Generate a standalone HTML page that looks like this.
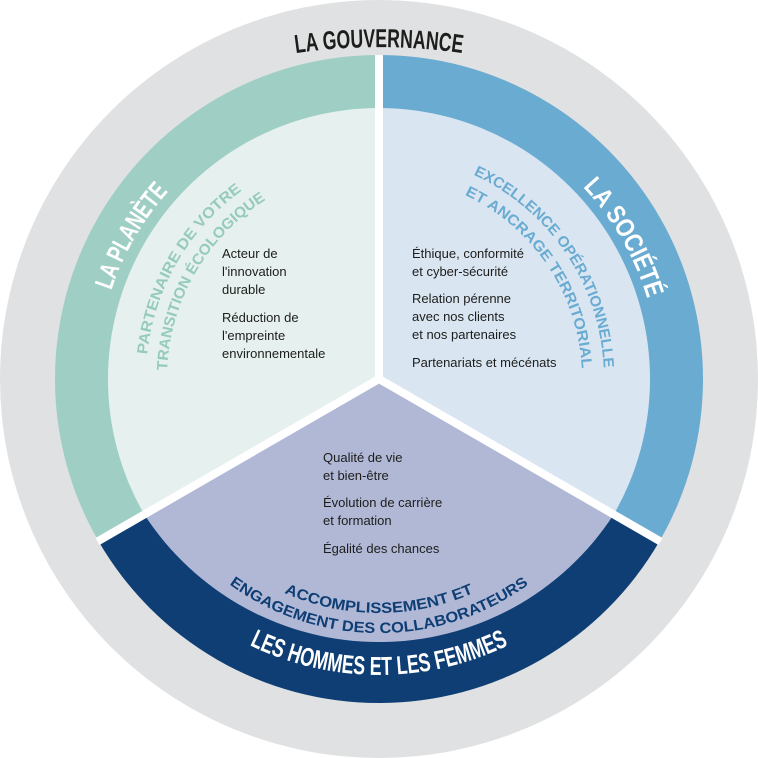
<!DOCTYPE html>
<html><head><meta charset="utf-8"><style>
html,body{margin:0;padding:0;background:#fff;}
svg{display:block}
.h{font-family:"Liberation Sans",sans-serif;font-weight:bold;font-size:26px;}
.s{font-family:"Liberation Sans",sans-serif;font-weight:bold;font-size:15px;}
.t{font-family:"Liberation Sans",sans-serif;font-size:13px;fill:#1d1d1b;}
</style></head><body>
<svg width="758" height="758" viewBox="0 0 758 758" xmlns="http://www.w3.org/2000/svg">
<defs>
<path id="pg" d="M290,54 A584,584 0 0 1 468,54"/>
<path id="pl" d="M106.6,452 A282,282 0 0 1 306,106.6"/>
<path id="pl1" d="M153.9,439.3 A233,233 0 0 1 318.7,153.9"/>
<path id="pl2" d="M174.2,433.9 A212,212 0 0 1 324.1,174.2"/>
<path id="ps" d="M451.5,108.5 A280,280 0 0 1 649.5,451.5"/>
<path id="ps1" d="M421.9,158.1 A225,225 0 0 1 599.9,421.9"/>
<path id="ps2" d="M417.7,179.7 A203,203 0 0 1 578.3,417.7"/>
<path id="ph" d="M122.7,527 A296,296 0 0 0 635.3,527"/>
<path id="ph1" d="M176.4,496 A234,234 0 0 0 581.6,496"/>
<path id="ph2" d="M159,506 A254,254 0 0 0 599,506"/>
</defs>
<circle cx="379" cy="379" r="379" fill="#e0e1e2"/>
<path d="M379,379 L98.4,541 A324,324 0 0 1 379,55 Z" fill="#9fcfc4"/>
<path d="M379,379 L144.3,514.5 A271,271 0 0 1 379,108 Z" fill="#e6f1ef"/>
<path d="M379,379 L379,55 A324,324 0 0 1 659.6,541 Z" fill="#6aabd2"/>
<path d="M379,379 L379,108 A271,271 0 0 1 613.7,514.5 Z" fill="#d9e6f2"/>
<path d="M379,379 L659.6,541 A324,324 0 0 1 98.4,541 Z" fill="#0e3e74"/>
<path d="M379,379 L613.7,514.5 A279.7,279.7 0 0 1 144.3,514.5 Z" fill="#b0b8d6"/>
<g stroke="#fff" stroke-width="8">
<line x1="379" y1="379" x2="379" y2="55"/>
<line x1="379" y1="379" x2="97.5" y2="541.5"/>
<line x1="379" y1="379" x2="660.5" y2="541.5"/>
</g>
<text class="h" fill="#1d1d1b" font-size="27"><textPath href="#pg" startOffset="50%" text-anchor="middle" textLength="167" lengthAdjust="spacingAndGlyphs">LA GOUVERNANCE</textPath></text>
<text class="h" fill="#fff"><textPath href="#pl" startOffset="50%" text-anchor="middle" textLength="115" lengthAdjust="spacingAndGlyphs">LA PLANÈTE</textPath></text>
<text class="s" fill="#95cabd"><textPath href="#pl1" startOffset="50%" text-anchor="middle" textLength="195" lengthAdjust="spacingAndGlyphs">PARTENAIRE DE VOTRE</textPath></text>
<text class="s" fill="#95cabd"><textPath href="#pl2" startOffset="50%" text-anchor="middle" textLength="205" lengthAdjust="spacingAndGlyphs">TRANSITION ÉCOLOGIQUE</textPath></text>
<text class="h" fill="#fff"><textPath href="#ps" startOffset="50%" text-anchor="middle" textLength="130" lengthAdjust="spacingAndGlyphs">LA SOCIÉTÉ</textPath></text>
<text class="s" fill="#6aabd2"><textPath href="#ps1" startOffset="50%" text-anchor="middle" textLength="245" lengthAdjust="spacingAndGlyphs">EXCELLENCE OPÉRATIONNELLE</textPath></text>
<text class="s" fill="#6aabd2"><textPath href="#ps2" startOffset="50%" text-anchor="middle" textLength="220" lengthAdjust="spacingAndGlyphs">ET ANCRAGE TERRITORIAL</textPath></text>
<text class="h" fill="#fff"><textPath href="#ph" startOffset="50%" text-anchor="middle" textLength="268" lengthAdjust="spacingAndGlyphs">LES HOMMES ET LES FEMMES</textPath></text>
<text class="s" fill="#0e3e74"><textPath href="#ph1" startOffset="50%" text-anchor="middle" textLength="195" lengthAdjust="spacingAndGlyphs">ACCOMPLISSEMENT ET</textPath></text>
<text class="s" fill="#0e3e74"><textPath href="#ph2" startOffset="50%" text-anchor="middle" textLength="320" lengthAdjust="spacingAndGlyphs">ENGAGEMENT DES COLLABORATEURS</textPath></text>
<g class="t">
<text x="222" y="258">Acteur de</text>
<text x="222" y="276">l'innovation</text>
<text x="222" y="294">durable</text>
<text x="222" y="322">Réduction de</text>
<text x="222" y="340">l'empreinte</text>
<text x="222" y="358">environnementale</text>
<text x="412" y="258">Éthique, conformité</text>
<text x="412" y="276">et cyber-sécurité</text>
<text x="412" y="303">Relation pérenne</text>
<text x="412" y="321">avec nos clients</text>
<text x="412" y="339">et nos partenaires</text>
<text x="412" y="367">Partenariats et mécénats</text>
<text x="323" y="462">Qualité de vie</text>
<text x="323" y="480">et bien-être</text>
<text x="323" y="507">Évolution de carrière</text>
<text x="323" y="525">et formation</text>
<text x="323" y="553">Égalité des chances</text>
</g>
</svg>
</body></html>
